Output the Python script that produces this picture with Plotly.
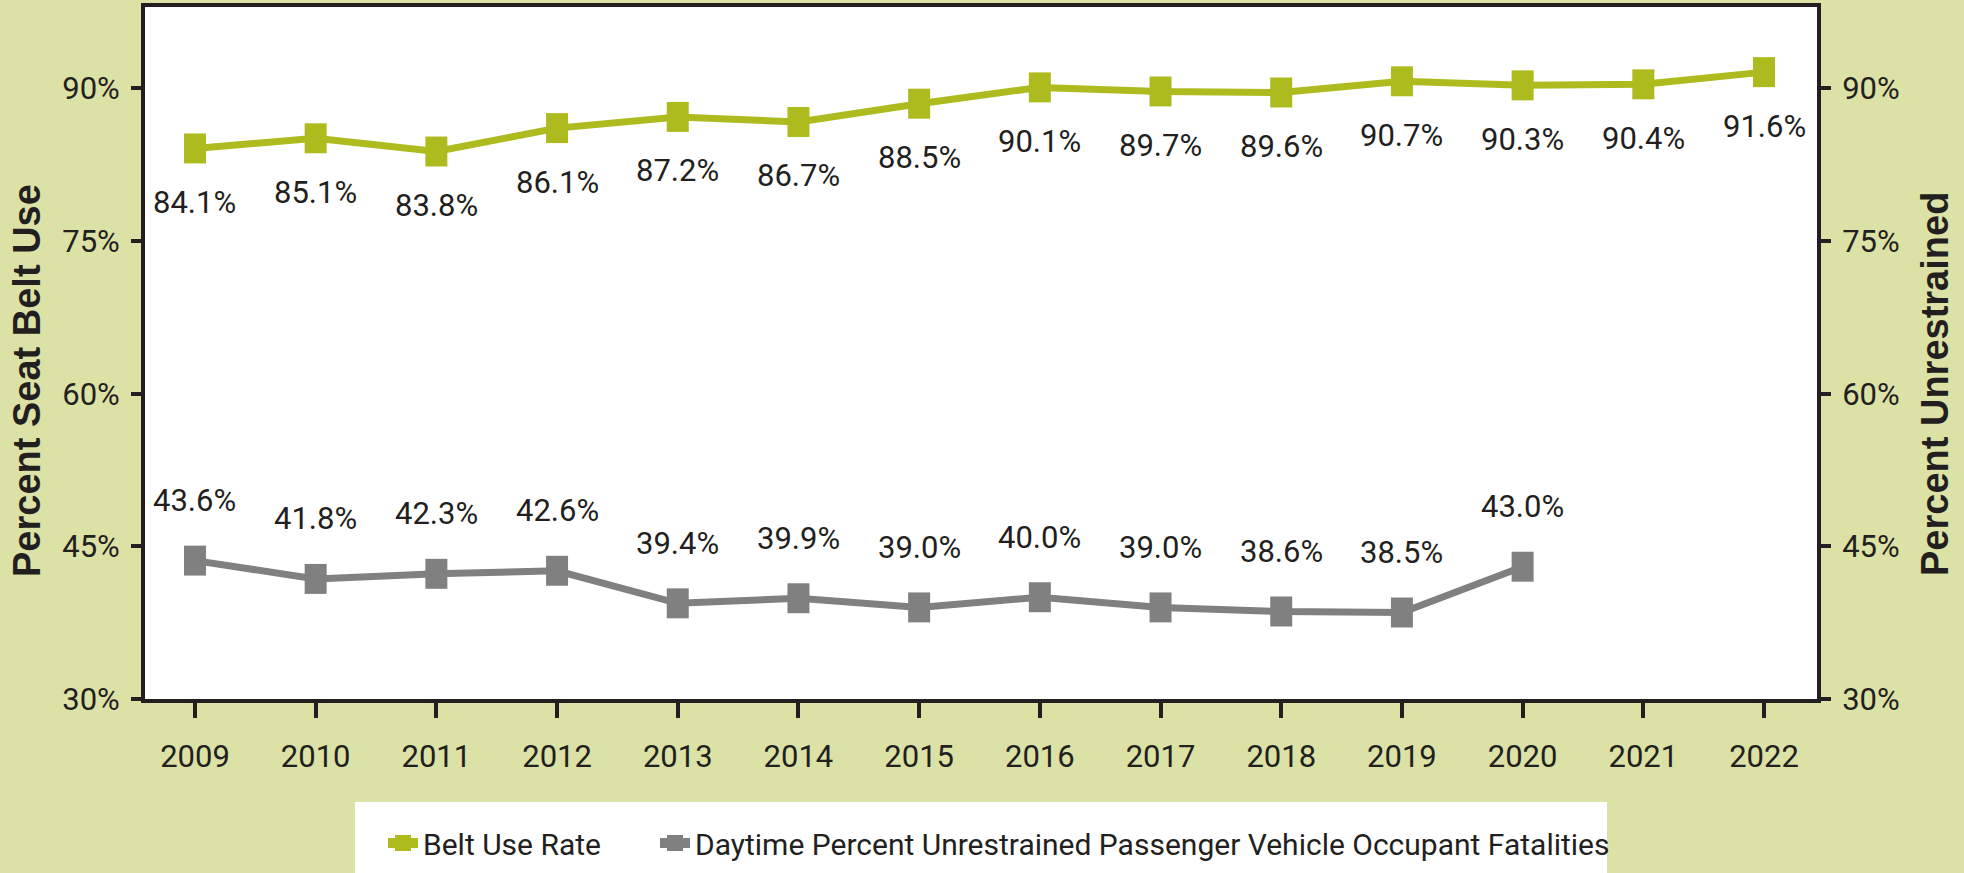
import plotly.graph_objects as go

# ---- data ----
years = [2009, 2010, 2011, 2012, 2013, 2014, 2015, 2016, 2017, 2018, 2019, 2020, 2021, 2022]
belt_use = [84.1, 85.1, 83.8, 86.1, 87.2, 86.7, 88.5, 90.1, 89.7, 89.6, 90.7, 90.3, 90.4, 91.6]
unrestrained = [43.6, 41.8, 42.3, 42.6, 39.4, 39.9, 39.0, 40.0, 39.0, 38.6, 38.5, 43.0, None, None]
y_ticks = [30, 45, 60, 75, 90]
y_tick_labels = ["30%", "45%", "60%", "75%", "90%"]
belt_name = "Belt Use Rate"
unres_name = "Daytime Percent Unrestrained Passenger Vehicle Occupant Fatalities"
left_title = "Percent Seat Belt Use"
right_title = "Percent Unrestrained"

# ---- style ----
BG = "#dce1a5"
GREEN = "#adbb1e"
GRAY = "#808080"
INK = "#231f20"
NARROW = "Roboto, Liberation Sans, sans-serif"
BOLD = "Liberation Sans, Arial, sans-serif"

W, H = 1964, 873
L, R, T, B = 145, 147, 7, 174
PW, PH = W - L - R, H - T - B


def px_x(px):
    return (px - L) / PW


def px_y(py):
    return (H - B - py) / PH


fig = go.Figure()

marker_rect = dict(symbol="line-ns", size=21.4)

fig.add_trace(go.Scatter(
    x=years, y=belt_use, mode="lines+markers", name=belt_name, showlegend=False,
    line=dict(color=GREEN, width=7),
    marker=dict(color=GREEN, line=dict(color=GREEN, width=22), **marker_rect),
    hoverinfo="skip", yaxis="y",
))
fig.add_trace(go.Scatter(
    x=years, y=unrestrained, mode="lines+markers", name=unres_name, showlegend=False,
    line=dict(color=GRAY, width=7),
    marker=dict(color=GRAY, line=dict(color=GRAY, width=22), **marker_rect),
    hoverinfo="skip", yaxis="y2", connectgaps=False,
))

# legend proxies (one legend box per entry so each can be placed)
for nm, col, lg in [(belt_name, GREEN, "legend"), (unres_name, GRAY, "legend2")]:
    fig.add_trace(go.Scatter(
        x=[None], y=[None], mode="lines+markers", name=nm, legend=lg,
        line=dict(color=col, width=10),
        marker=dict(color=col, symbol="square", size=16),
        yaxis="y", showlegend=True,
    ))

annotations = []
for x, v in zip(years, belt_use):
    annotations.append(dict(
        x=x, y=v, xref="x", yref="y", text=f"{v:.1f}%", showarrow=False,
        yshift=-54, font=dict(family=NARROW, size=31, color=INK),
    ))
for x, v in zip(years, unrestrained):
    if v is None:
        continue
    annotations.append(dict(
        x=x, y=v, xref="x", yref="y2", text=f"{v:.1f}%", showarrow=False,
        yshift=60, font=dict(family=NARROW, size=31, color=INK),
    ))

annotations.append(dict(
    x=px_x(27), y=px_y(381), xref="paper", yref="paper", text=left_title,
    textangle=-90, showarrow=False, xanchor="center", yanchor="middle",
    font=dict(family=BOLD, size=38, color=INK, weight="bold"),
))
annotations.append(dict(
    x=px_x(1935), y=px_y(384), xref="paper", yref="paper", text=right_title,
    textangle=-90, showarrow=False, xanchor="center", yanchor="middle",
    font=dict(family=BOLD, size=38, color=INK, weight="bold"),
))

axis_common = dict(
    range=[30, 98], tickvals=y_ticks, ticktext=y_tick_labels,
    ticks="outside", ticklen=10, tickwidth=4, tickcolor=INK,
    showline=True, linewidth=4, linecolor=INK, showgrid=False, zeroline=False,
    tickfont=dict(family=NARROW, size=31, color=INK),
    ticklabelstandoff=5, fixedrange=True, automargin=False,
)

legend_common = dict(
    orientation="h", xanchor="left", yanchor="top", y=px_y(817),
    bgcolor="rgba(0,0,0,0)", borderwidth=0,
    font=dict(family=NARROW, size=30, color=INK),
)

fig.update_layout(
    template="none",
    width=W, height=H,
    margin=dict(l=L, r=R, t=T, b=B, pad=0, autoexpand=False),
    paper_bgcolor=BG, plot_bgcolor="white",
    xaxis=dict(
        range=[2008.586, 2022.439], tickvals=years, ticktext=[str(y) for y in years],
        ticks="outside", ticklen=15, tickwidth=4, tickcolor=INK,
        showline=True, linewidth=4, linecolor=INK, mirror=True,
        showgrid=False, zeroline=False, automargin=False, fixedrange=True,
        tickfont=dict(family=NARROW, size=31, color=INK),
        ticklabelstandoff=12,
    ),
    yaxis=dict(side="left", **axis_common),
    yaxis2=dict(side="right", overlaying="y", **axis_common),
    showlegend=True,
    legend=dict(x=px_x(383), **legend_common),
    legend2=dict(x=px_x(655), **legend_common),
    shapes=[dict(
        type="rect", xref="paper", yref="paper",
        x0=px_x(355), x1=px_x(1607), y0=px_y(802), y1=px_y(880),
        fillcolor="white", line=dict(width=0), layer="below",
    )],
    annotations=annotations,
)

fig.write_html(
    "out.html",
    config={"displayModeBar": False},
    post_script="document.body.style.margin='0px';document.body.style.background='%s';" % BG,
)
